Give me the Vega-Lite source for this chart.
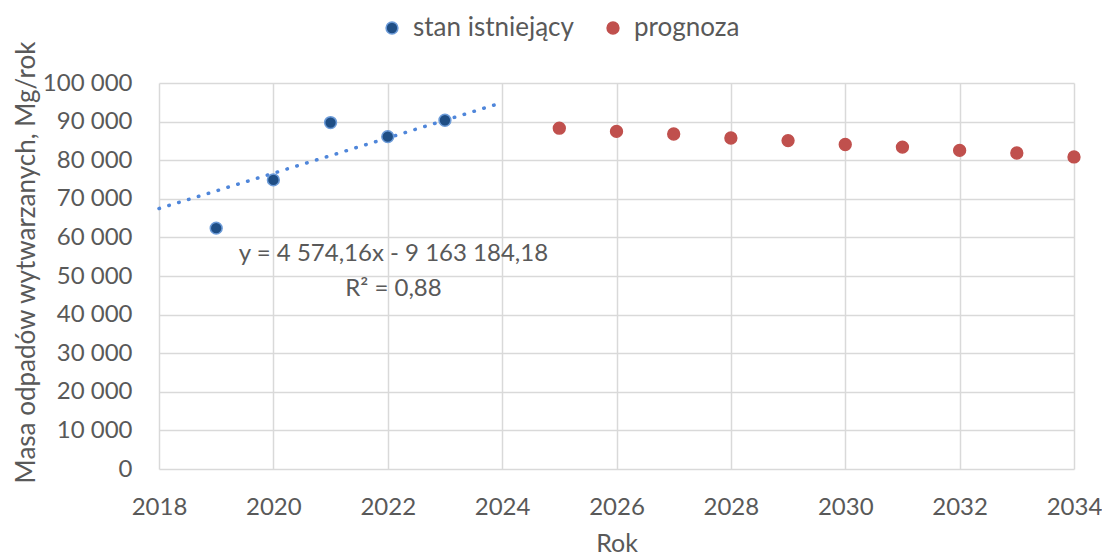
{
  "$schema": "https://vega.github.io/schema/vega-lite/v6.json",
  "width": 915,
  "height": 386,
  "autosize": {"type": "none"},
  "padding": {"left": 159, "top": 83, "right": 28, "bottom": 88},
  "background": "white",
  "config": {
    "font": "Lato",
    "view": {"stroke": null},
    "locale": {"number": {"decimal": ",", "thousands": " ", "grouping": [3], "currency": ["", ""]}},
    "axis": {
      "labelFont": "Lato", "labelFontSize": 24, "labelColor": "#595959", "labelOverlap": false,
      "titleFont": "Lato", "titleFontSize": 26, "titleColor": "#595959", "titleFontWeight": "normal",
      "gridColor": "#D9D9D9", "gridWidth": 1.5, "domain": false, "ticks": false
    },
    "legend": {"labelFont": "Lato", "labelFontSize": 26, "labelColor": "#595959", "labelLimit": 400}
  },
  "datasets": {
    "punkty": [
      {"Rok": 2019, "masa": 62400, "seria": "stan istniejący"},
      {"Rok": 2020, "masa": 74900, "seria": "stan istniejący"},
      {"Rok": 2021, "masa": 89750, "seria": "stan istniejący"},
      {"Rok": 2022, "masa": 86100, "seria": "stan istniejący"},
      {"Rok": 2023, "masa": 90350, "seria": "stan istniejący"},
      {"Rok": 2025, "masa": 88300, "seria": "prognoza"},
      {"Rok": 2026, "masa": 87460, "seria": "prognoza"},
      {"Rok": 2027, "masa": 86780, "seria": "prognoza"},
      {"Rok": 2028, "masa": 85760, "seria": "prognoza"},
      {"Rok": 2029, "masa": 85080, "seria": "prognoza"},
      {"Rok": 2030, "masa": 84070, "seria": "prognoza"},
      {"Rok": 2031, "masa": 83390, "seria": "prognoza"},
      {"Rok": 2032, "masa": 82540, "seria": "prognoza"},
      {"Rok": 2033, "masa": 81860, "seria": "prognoza"},
      {"Rok": 2034, "masa": 80850, "seria": "prognoza"}
    ],
    "trend": [
      {"Rok": 2018, "masa": 67470},
      {"Rok": 2024, "masa": 94920}
    ],
    "opis": [
      {"rownanie": "y = 4 574,16x - 9 163 184,18", "r2": "R² = 0,88"}
    ]
  },
  "layer": [
    {
      "data": {"name": "trend"},
      "mark": {"type": "line", "color": "#4F86DA", "strokeWidth": 3.5, "strokeDash": [0.5, 9.8], "strokeCap": "round"},
      "encoding": {
        "x": {
          "field": "Rok", "type": "quantitative",
          "scale": {"domain": [2018, 2034], "nice": false, "zero": false},
          "axis": {"values": [2018, 2020, 2022, 2024, 2026, 2028, 2030, 2032, 2034], "format": "d", "labelPadding": 26, "title": "Rok", "titleFontSize": 25, "titlePadding": 12, "labelFlush": false}
        },
        "y": {
          "field": "masa", "type": "quantitative",
          "scale": {"domain": [0, 100000], "nice": false},
          "axis": {"values": [0, 10000, 20000, 30000, 40000, 50000, 60000, 70000, 80000, 90000, 100000], "format": ",d", "labelPadding": 27, "title": "Masa odpadów wytwarzanych, Mg/rok", "titleX": -133, "titleY": 179, "titleBaseline": "middle", "titleAngle": -90, "titleAlign": "center"}
        }
      }
    },
    {
      "data": {"name": "punkty"},
      "mark": {"type": "point", "filled": true, "opacity": 1, "size": 140, "strokeWidth": 1.5},
      "encoding": {
        "x": {
          "field": "Rok", "type": "quantitative",
          "scale": {"domain": [2018, 2034], "nice": false, "zero": false},
          "axis": {"values": [2018, 2020, 2022, 2024, 2026, 2028, 2030, 2032, 2034], "format": "d", "labelPadding": 26, "title": "Rok", "titleFontSize": 25, "titlePadding": 12, "labelFlush": false}
        },
        "y": {
          "field": "masa", "type": "quantitative",
          "scale": {"domain": [0, 100000], "nice": false},
          "axis": {"values": [0, 10000, 20000, 30000, 40000, 50000, 60000, 70000, 80000, 90000, 100000], "format": ",d", "labelPadding": 27, "title": "Masa odpadów wytwarzanych, Mg/rok", "titleX": -133, "titleY": 179, "titleBaseline": "middle", "titleAngle": -90, "titleAlign": "center"}
        },
        "fill": {
          "field": "seria", "type": "nominal",
          "scale": {"domain": ["stan istniejący", "prognoza"], "range": ["#1F4E85", "#C0504D"]},
          "legend": {"title": null, "orient": "none", "direction": "horizontal", "legendX": 220, "legendY": -68, "symbolSize": 140, "labelOffset": 8, "columnPadding": 26, "symbolStrokeWidth": 1.5, "labelLimit": 400}
        },
        "stroke": {
          "field": "seria", "type": "nominal",
          "scale": {"domain": ["stan istniejący", "prognoza"], "range": ["#6C9BD8", "#C0504D"]},
          "legend": {"title": null, "orient": "none", "direction": "horizontal", "legendX": 220, "legendY": -68, "symbolSize": 140, "labelOffset": 8, "columnPadding": 26, "symbolStrokeWidth": 1.5, "labelLimit": 400}
        }
      }
    },
    {
      "data": {"name": "opis"},
      "mark": {"type": "text", "align": "center", "baseline": "middle", "fontSize": 24, "color": "#595959", "font": "Lato"},
      "encoding": {
        "x": {
          "datum": 2022.1, "type": "quantitative",
          "scale": {"domain": [2018, 2034], "nice": false, "zero": false},
          "axis": {"values": [2018, 2020, 2022, 2024, 2026, 2028, 2030, 2032, 2034], "format": "d", "labelPadding": 26, "title": "Rok", "titleFontSize": 25, "titlePadding": 12, "labelFlush": false}
        },
        "y": {
          "datum": 55700, "type": "quantitative",
          "scale": {"domain": [0, 100000], "nice": false},
          "axis": {"values": [0, 10000, 20000, 30000, 40000, 50000, 60000, 70000, 80000, 90000, 100000], "format": ",d", "labelPadding": 27, "title": "Masa odpadów wytwarzanych, Mg/rok", "titleX": -133, "titleY": 179, "titleBaseline": "middle", "titleAngle": -90, "titleAlign": "center"}
        },
        "text": {"field": "rownanie", "type": "nominal"}
      }
    },
    {
      "data": {"name": "opis"},
      "mark": {"type": "text", "align": "center", "baseline": "middle", "fontSize": 24, "color": "#595959", "font": "Lato"},
      "encoding": {
        "x": {
          "datum": 2022.1, "type": "quantitative",
          "scale": {"domain": [2018, 2034], "nice": false, "zero": false},
          "axis": {"values": [2018, 2020, 2022, 2024, 2026, 2028, 2030, 2032, 2034], "format": "d", "labelPadding": 26, "title": "Rok", "titleFontSize": 25, "titlePadding": 12, "labelFlush": false}
        },
        "y": {
          "datum": 46700, "type": "quantitative",
          "scale": {"domain": [0, 100000], "nice": false},
          "axis": {"values": [0, 10000, 20000, 30000, 40000, 50000, 60000, 70000, 80000, 90000, 100000], "format": ",d", "labelPadding": 27, "title": "Masa odpadów wytwarzanych, Mg/rok", "titleX": -133, "titleY": 179, "titleBaseline": "middle", "titleAngle": -90, "titleAlign": "center"}
        },
        "text": {"field": "r2", "type": "nominal"}
      }
    }
  ]
}
